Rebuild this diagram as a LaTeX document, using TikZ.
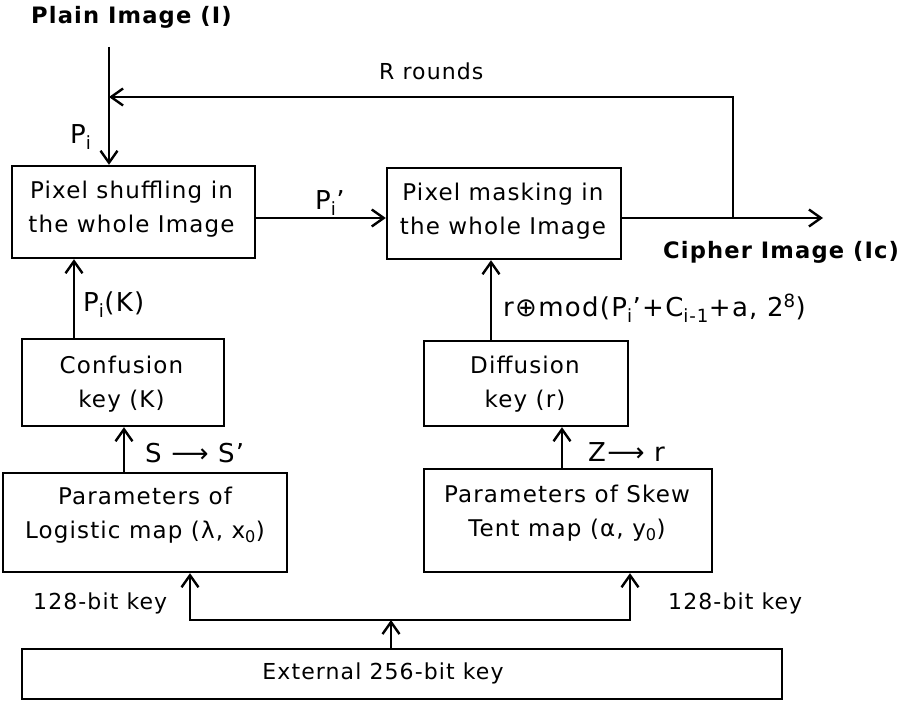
\documentclass[tikz,border=0pt]{standalone}
\usepackage{fontspec}
\setmainfont{DejaVu Sans}[LetterSpace=5]
\usetikzlibrary{arrows.meta}
\begin{document}
\begin{tikzpicture}[x=1pt,y=-1pt,
  box/.style={draw, line width=2.4pt, inner sep=0pt},
  btxt/.style={align=center, inner sep=0pt, font=\fontsize{23}{34}\selectfont},
  lab/.style={anchor=base west, inner sep=0pt, font=\fontsize{26}{30}\selectfont},
  small/.style={anchor=base west, inner sep=0pt, font=\fontsize{22}{26}\selectfont},
  ttl/.style={anchor=base west, inner sep=0pt, font=\bfseries\fontsize{22.6}{26}\selectfont},
  arr/.style={line width=2.4pt, -{Straight Barb[length=12pt,width=17pt]}},
  biarr/.style={line width=2.4pt, {Straight Barb[length=12pt,width=17pt]}-{Straight Barb[length=12pt,width=17pt]}}]
\useasboundingbox (0,0) rectangle (916,703);

% processing boxes
\node[box, minimum width=243, minimum height=92] (shuf) at (133.5,212) {};
\node[btxt] (shuft) at (131.5,209) {Pixel shuffling in\\the whole Image};
\node[box, minimum width=234, minimum height=91] (mask) at (504,213.5) {};
\node[btxt] (maskt) at (503,211.5) {Pixel masking in\\the whole Image};
\node[box, minimum width=202, minimum height=87] (conf) at (123,382.5) {};
\node[btxt] (conft) at (121.5,384) {Confusion\\key (K)};
\node[box, minimum width=204, minimum height=85] (diff) at (526,383.5) {};
\node[btxt] (difft) at (525,384) {Diffusion\\key (r)};
\node[box, minimum width=284, minimum height=99] (logi) at (145,522.5) {};
\node[btxt] (logit) at (145,515.5) {Parameters of\\Logistic map (λ, x\textsubscript{0})};
\node[box, minimum width=288, minimum height=103] (skew) at (568,520.5) {};
\node[btxt] (skewt) at (567,513) {Parameters of Skew\\Tent map (α, y\textsubscript{0})};
\node[box, minimum width=760, minimum height=50] (ext) at (402,674) {};
\node[btxt, font=\fontsize{22}{26}\selectfont] (extt) at (383,673) {External 256-bit key};

% titles and labels
\node[ttl] (plain) at (31,24) {Plain Image (I)};
\node[ttl] (ciph) at (663,259) {Cipher Image (Ic)};
\node[small] (rr) at (379,80) {R rounds};
\node[lab] (pi) at (70,144) {P\textsubscript{i}};
\node[lab] (pip) at (315,210) {P\textsubscript{i}’};
\node[lab] (pik) at (83,312) {P\textsubscript{i}(K)};
\node[lab] (mod) at (503,317) {r⊕mod(P\textsubscript{i}’+C\textsubscript{i-1}+a, 2\textsuperscript{8})};
\node[lab] (ss) at (145,462) {S ⟶ S’};
\node[lab] (zr) at (588,461) {Z⟶ r};
\node[small] (kl) at (33,609) {128-bit key};
\node[small] (kr) at (668,609) {128-bit key};

% routing points
\coordinate (src) at (109,47);
\coordinate (ret) at (109,97);
\coordinate (split) at (733,218);
\coordinate (out) at (823,218);
\coordinate (cx) at (74,0);
\coordinate (dx) at (491,0);
\coordinate (lx) at (124,0);
\coordinate (sx) at (562,0);
\coordinate (bl) at (190,620);
\coordinate (br) at (630,620);
\coordinate (bc) at (391,620);

% connectors
\draw[arr] (src) -- (src |- shuf.north);
\draw[arr] (split) |- (ret);
\draw[arr] (shuf.east |- split) -- (mask.west |- split);
\draw[arr] (mask.east |- out) -- (out);
\draw[arr] (conf.north -| cx) -- (shuf.south -| cx);
\draw[arr] (diff.north -| dx) -- (mask.south -| dx);
\draw[arr] (logi.north -| lx) -- (conf.south -| lx);
\draw[arr] (skew.north -| sx) -- (diff.south -| sx);
\draw[biarr] (logi.south -| bl) -- (bl) -- (br) -- (skew.south -| br);
\draw[arr] (ext.north -| bc) -- (bc);
\end{tikzpicture}
\end{document}
